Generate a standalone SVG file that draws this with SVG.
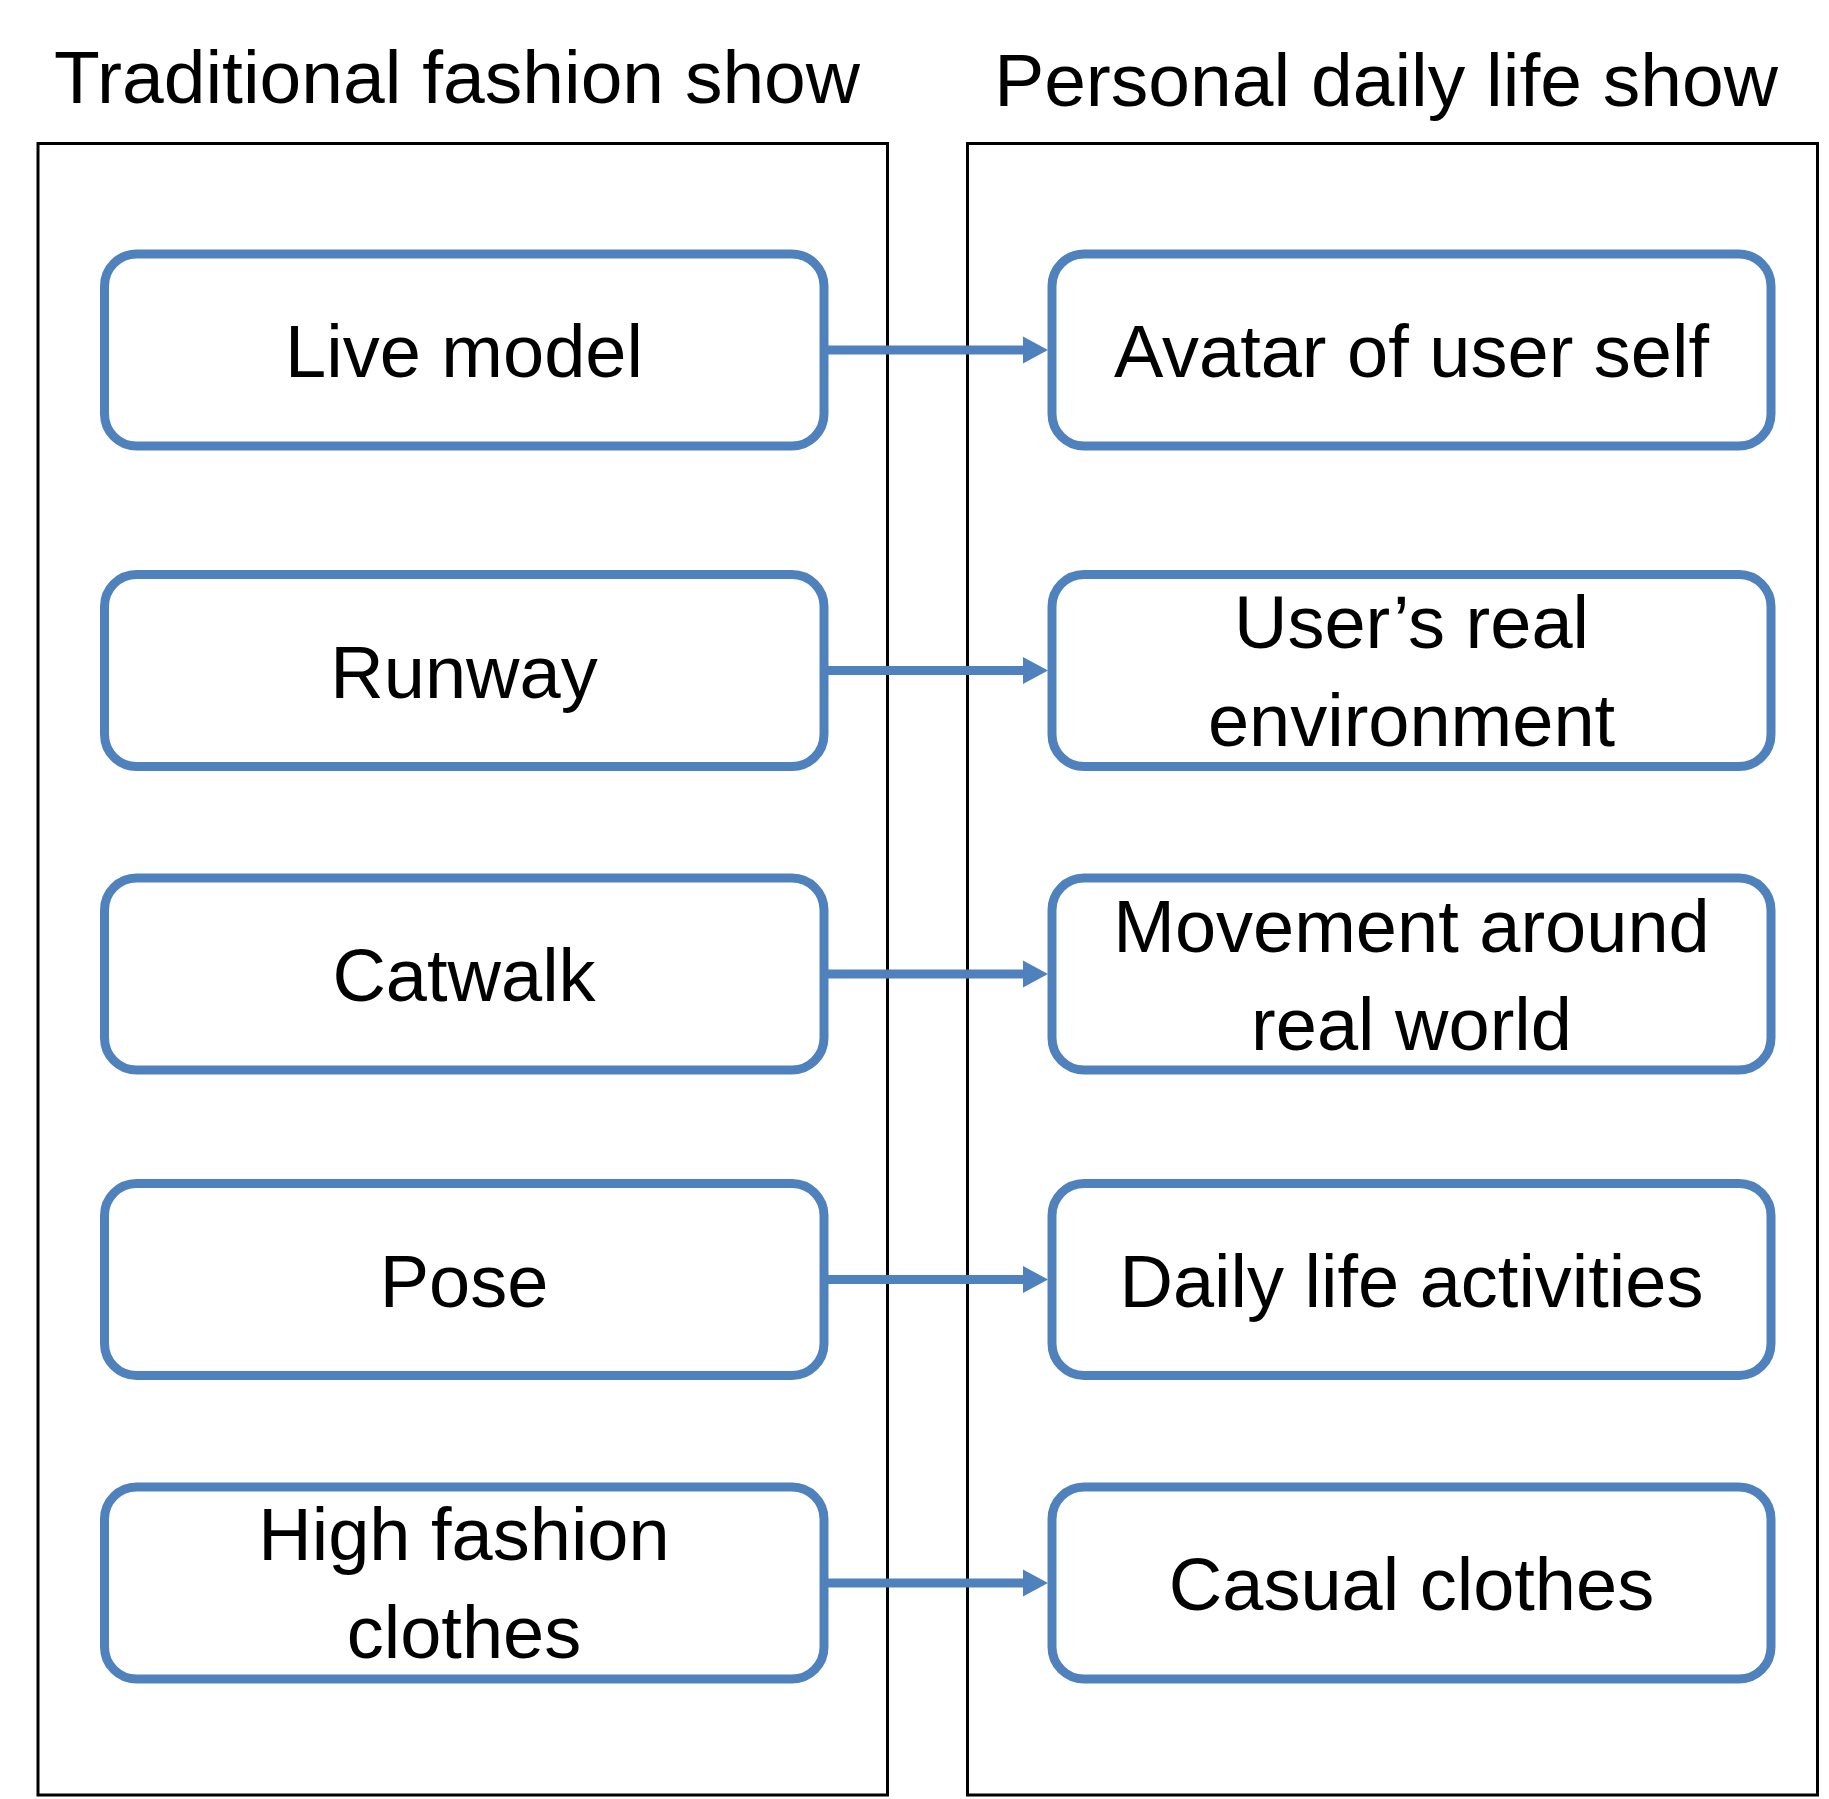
<svg xmlns="http://www.w3.org/2000/svg" width="1829" height="1799" viewBox="0 0 1829 1799">
<style>
.panel{fill:none;stroke:#000;stroke-width:3}
.node{fill:#fff;stroke:#4F81BD;stroke-width:9}
.title{font-family:"Liberation Sans",Arial,sans-serif;font-size:75px;fill:#000;text-anchor:middle}
.lbl{font-family:"Liberation Sans",Arial,sans-serif;font-size:74px;fill:#000;text-anchor:middle}
.conn{stroke:#4F81BD;stroke-width:9;fill:none}
</style>
<defs>
<marker id="ah" markerUnits="userSpaceOnUse" markerWidth="26" markerHeight="28" refX="0" refY="13.5" orient="auto" overflow="visible">
<path d="M0,0 L25,13.5 L0,27 z" fill="#4F81BD"/>
</marker>
</defs>
<rect fill="#fff" x="0" y="0" width="1829" height="1799"/>
<g id="titles">
<text class="title" x="457" y="103">Traditional fashion show</text>
<text class="title" x="1386" y="106">Personal daily life show</text>
</g>
<g id="panel-left"><rect class="panel" x="38" y="143.5" width="849.5" height="1651.5"/></g>
<g id="panel-right"><rect class="panel" x="967.5" y="143.5" width="850" height="1651.5"/></g>
<g id="connectors">
<line class="conn" x1="824" y1="350" x2="1023" y2="350" marker-end="url(#ah)"/>
<line class="conn" x1="824" y1="670.5" x2="1023" y2="670.5" marker-end="url(#ah)"/>
<line class="conn" x1="824" y1="974" x2="1023" y2="974" marker-end="url(#ah)"/>
<line class="conn" x1="824" y1="1279.5" x2="1023" y2="1279.5" marker-end="url(#ah)"/>
<line class="conn" x1="824" y1="1583" x2="1023" y2="1583" marker-end="url(#ah)"/>
</g>
<g id="n-live-model"><rect class="node" x="104.5" y="254" width="719.5" height="192" rx="32"/><text class="lbl" x="464" y="377">Live model</text></g>
<g id="n-runway"><rect class="node" x="104.5" y="574.5" width="719.5" height="192" rx="32"/><text class="lbl" x="464" y="697.5">Runway</text></g>
<g id="n-catwalk"><rect class="node" x="104.5" y="878" width="719.5" height="192" rx="32"/><text class="lbl" x="464" y="1001">Catwalk</text></g>
<g id="n-pose"><rect class="node" x="104.5" y="1183.5" width="719.5" height="192" rx="32"/><text class="lbl" x="464" y="1306.5">Pose</text></g>
<g id="n-high-fashion"><rect class="node" x="104.5" y="1487" width="719.5" height="192" rx="32"/><text class="lbl" x="464" y="1560">High fashion</text><text class="lbl" x="464" y="1658">clothes</text></g>
<g id="n-avatar"><rect class="node" x="1052" y="254" width="719" height="192" rx="32"/><text class="lbl" x="1411.5" y="377">Avatar of user self</text></g>
<g id="n-environment"><rect class="node" x="1052" y="574.5" width="719" height="192" rx="32"/><text class="lbl" x="1411.5" y="648">User’s real</text><text class="lbl" x="1411.5" y="746">environment</text></g>
<g id="n-movement"><rect class="node" x="1052" y="878" width="719" height="192" rx="32"/><text class="lbl" x="1411.5" y="952">Movement around</text><text class="lbl" x="1411.5" y="1050">real world</text></g>
<g id="n-daily"><rect class="node" x="1052" y="1183.5" width="719" height="192" rx="32"/><text class="lbl" x="1411.5" y="1306.5">Daily life activities</text></g>
<g id="n-casual"><rect class="node" x="1052" y="1487" width="719" height="192" rx="32"/><text class="lbl" x="1411.5" y="1610">Casual clothes</text></g>
</svg>
